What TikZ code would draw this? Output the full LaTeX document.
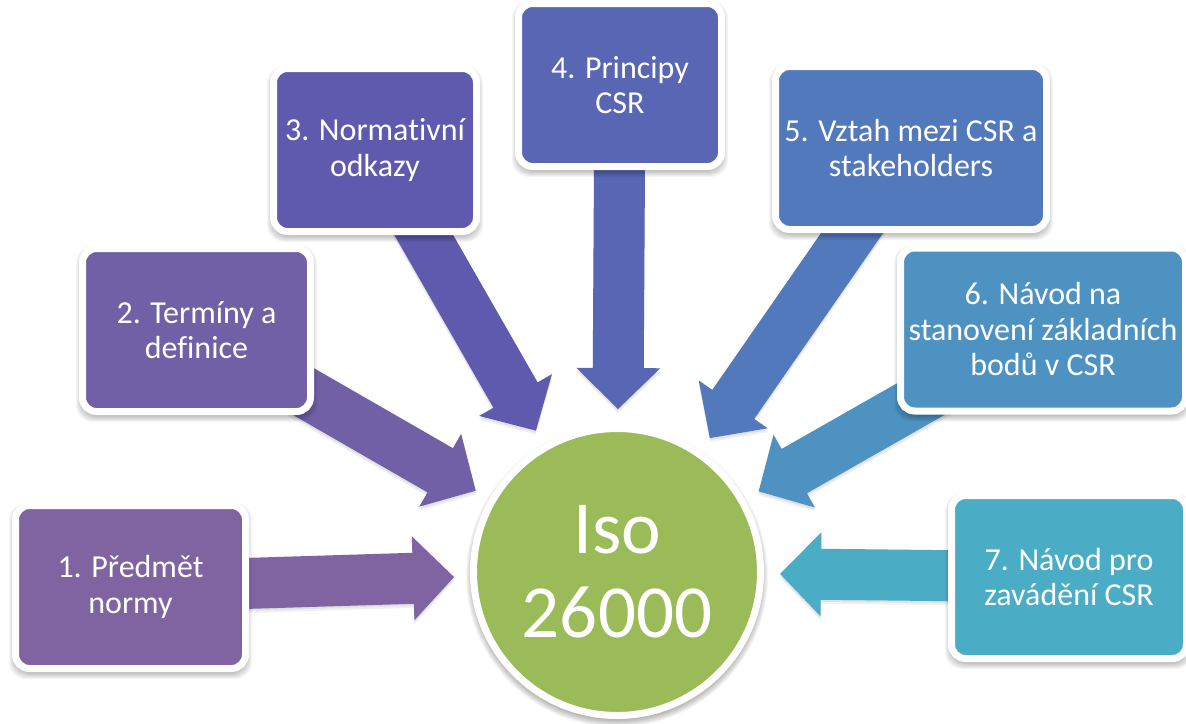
\documentclass[tikz,border=0pt]{standalone}
\usepackage{fontspec}
\setmainfont{Carlito}[Ligatures=CommonOff]
\usetikzlibrary{calc}
\pgfdeclarelayer{paper}
\pgfdeclarelayer{spokes}
\pgfdeclarelayer{shades}
\pgfsetlayers{paper,spokes,shades,main}

\definecolor{topicA}{HTML}{8064A2}
\definecolor{topicB}{HTML}{7160A6}
\definecolor{topicC}{HTML}{5F5AAD}
\definecolor{topicD}{HTML}{5866B4}
\definecolor{topicE}{HTML}{5279BB}
\definecolor{topicF}{HTML}{4E92C2}
\definecolor{topicG}{HTML}{4BACC6}
\definecolor{isogreen}{HTML}{9BBB59}

\tikzset{
  topic/.style={rectangle, rounded corners=14pt, fill=#1, draw=white,
      line width=7pt, text=white, align=center, inner sep=0pt,
      minimum height=163pt, font=\fontsize{32}{35.5}\selectfont},
  hub/.style={circle, fill=isogreen, draw=white, line width=7pt,
      minimum size=287pt, inner sep=0pt, text=white, align=center,
      font=\fontsize{75}{84}\selectfont},
  haze/.style={black, opacity=0.04}
}

% soft shadow below a topic box: stacked faint rounded rectangles
\newcommand{\cardshadow}[1]{%
  \begin{pgfonlayer}{shades}
    \foreach \e in {-3,-2,...,3}
      \fill[haze, rounded corners=17pt]
        ($(#1.south west)+(-\e,4+\e)$) rectangle ($(#1.north east)+(\e,4-\e)$);
  \end{pgfonlayer}}

% block arrow outline from a box centre to a tip coordinate
\newcommand{\spokefill}[3]{% #1 options, #2 box, #3 tip
  \fill[#1]
    ($(#2.center)!25.5pt!90:(#3)$) -- ($(#3h)!25.5pt!90:(#3)$) --
    ($(#3h)!42pt!90:(#3)$) -- (#3) -- ($(#3h)!42pt!-90:(#3)$) --
    ($(#3h)!25.5pt!-90:(#3)$) -- ($(#2.center)!25.5pt!-90:(#3)$) -- cycle;}

% block arrow from a topic box towards the hub:
% #1 box name, #2 tip coordinate name, #3 colour
\newcommand{\radialspoke}[3]{%
  \coordinate (#2) at ($(iso.center)!163pt!(#1.center)$);
  \coordinate (#2h) at ($(#2)!41pt!(#1.center)$);
  \spokefill{haze, opacity=0.06, transform canvas={yshift=-2pt}}{#1}{#2}
  \spokefill{haze, opacity=0.06, transform canvas={yshift=-4pt}}{#1}{#2}
  \spokefill{#3}{#1}{#2}}

\begin{document}
\begin{tikzpicture}[x=1pt, y=-1pt]
  \begin{pgfonlayer}{paper}
    \fill[white] (0,0) rectangle (1186,723);
  \end{pgfonlayer}
  \useasboundingbox (0,0) rectangle (1186,723);

  % hub
  \node[hub] (iso) at (617,572) {Iso\\26000};
  \begin{pgfonlayer}{paper}
    \foreach \r in {144,145,...,151}
      \fill[haze] ($(iso.center)+(0,4)$) circle (\r);
  \end{pgfonlayer}

  % topics
  \node[topic=topicA, minimum width=230pt] (b1) at (130.5,587) {1. Předmět\\normy};
  \node[topic=topicB, minimum width=228pt] (b2) at (196.5,330) {2. Termíny a\\definice};
  \node[topic=topicC, minimum width=203pt] (b3) at (375,150) {3. Normativní\\odkazy};
  \node[topic=topicD, minimum width=203pt] (b4) at (620,85) {4. Principy\\CSR};
  \node[topic=topicE, minimum width=271pt] (b5) at (911,148) {5. Vztah mezi CSR a\\stakeholders};
  \node[topic=topicF, minimum width=285pt] (b6) at (1043,329.5) {6. Návod na\\stanovení základních\\bodů v CSR};
  \node[topic=topicG, minimum width=235pt] (b7) at (1069,577) {7. Návod pro\\zavádění CSR};
  \foreach \b in {b1,b2,b3,b4,b5,b6,b7} {\cardshadow{\b}}

  % arrows towards the hub, behind the boxes
  \begin{pgfonlayer}{spokes}
    \radialspoke{b1}{t1}{topicA}
    \radialspoke{b2}{t2}{topicB}
    \radialspoke{b3}{t3}{topicC}
    \radialspoke{b4}{t4}{topicD}
    \radialspoke{b5}{t5}{topicE}
    \radialspoke{b6}{t6}{topicF}
    \radialspoke{b7}{t7}{topicG}
  \end{pgfonlayer}
\end{tikzpicture}
\end{document}
